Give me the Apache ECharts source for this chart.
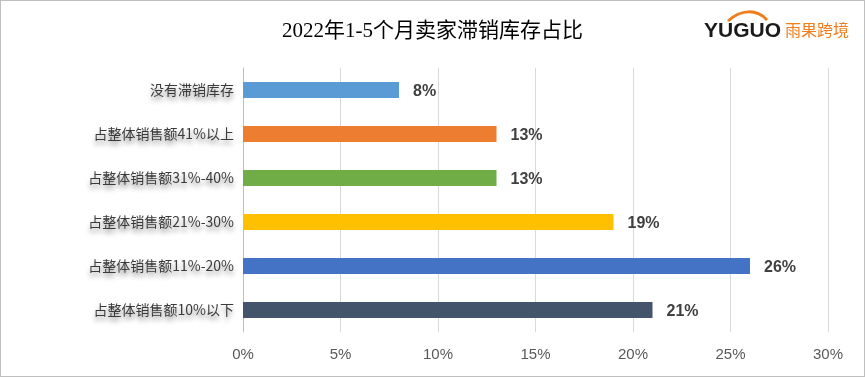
<!DOCTYPE html>
<html>
<head>
<meta charset="utf-8">
<script src="https://cdn.jsdelivr.net/npm/echarts@6/dist/echarts.min.js"></script>
<style>
  html, body { margin: 0; padding: 0; background: #fff; }
  #main { width: 865px; height: 377px; box-sizing: border-box; border: 1px solid #bfbfbf; }
</style>
</head>
<body>
<div id="main"></div>
<script>
  // 数据
  var categories = ['没有滞销库存', '占整体销售额41%以上', '占整体销售额31%-40%', '占整体销售额21%-30%', '占整体销售额11%-20%', '占整体销售额10%以下'];
  var values = [8, 13, 13, 19, 26, 21];
  var barColors = ['#5B9BD5', '#ED7D31', '#70AD47', '#FFC000', '#4472C4', '#44546A'];
  var title = '2022年1-5个月卖家滞销库存占比';

  var myChart = echarts.init(document.getElementById('main'));

  var option = {
    animation: false,
    title: {
      text: title,
      left: 'center',
      top: 15,
      textStyle: {
        fontFamily: 'Liberation Serif, Noto Sans CJK SC',
        fontSize: 21,
        fontWeight: 'normal',
        color: '#000'
      }
    },
    grid: {
      left: 242,
      right: 36,
      top: 67,
      bottom: 44
    },
    xAxis: {
      type: 'value',
      min: 0,
      max: 30,
      interval: 5,
      axisLine: { show: false },
      axisTick: { show: false },
      splitLine: { show: true, lineStyle: { color: '#d9d9d9', width: 1 } },
      axisLabel: {
        formatter: '{value}%',
        color: '#595959',
        fontSize: 15,
        margin: 15,
        fontFamily: 'Liberation Sans, Noto Sans'
      }
    },
    yAxis: {
      type: 'category',
      inverse: true,
      data: categories,
      axisLine: { show: true, lineStyle: { color: '#bfbfbf' } },
      axisTick: { show: false },
      axisLabel: {
        margin: 9,
        color: '#3a3a3a',
        fontSize: 14,
        fontFamily: 'Noto Sans CJK SC',
        textShadowColor: 'rgba(0,0,0,0.45)',
        textShadowBlur: 5,
        textShadowOffsetY: 4
      }
    },
    series: [
      {
        type: 'bar',
        barWidth: 16,
        data: values.map(function (v, i) {
          return { value: v, itemStyle: { color: barColors[i] } };
        }),
        label: {
          show: true,
          position: 'right',
          distance: 14,
          offset: [0, 2],
          formatter: '{c}%',
          color: '#404040',
          fontSize: 16,
          fontWeight: 'bold',
          fontFamily: 'Liberation Sans, Noto Sans'
        }
      }
    ],
    graphic: [
      {
        type: 'bezierCurve',
        shape: { x1: 727, y1: 20, x2: 766, y2: 19, cpx1: 740, cpy1: 8, cpx2: 756, cpy2: 8 },
        style: { stroke: '#F07D1A', lineWidth: 3, fill: null }
      },
      {
        type: 'text',
        left: 703,
        top: 20,
        style: {
          text: 'YUGUO',
          fill: '#1a1a1a',
          font: 'bold 21px Liberation Sans'
        }
      },
      {
        type: 'text',
        left: 784,
        top: 21,
        style: {
          text: '雨果跨境',
          fill: '#F07D1A',
          font: '16px Noto Sans CJK SC'
        }
      }
    ]
  };

  myChart.setOption(option);
</script>
</body>
</html>
